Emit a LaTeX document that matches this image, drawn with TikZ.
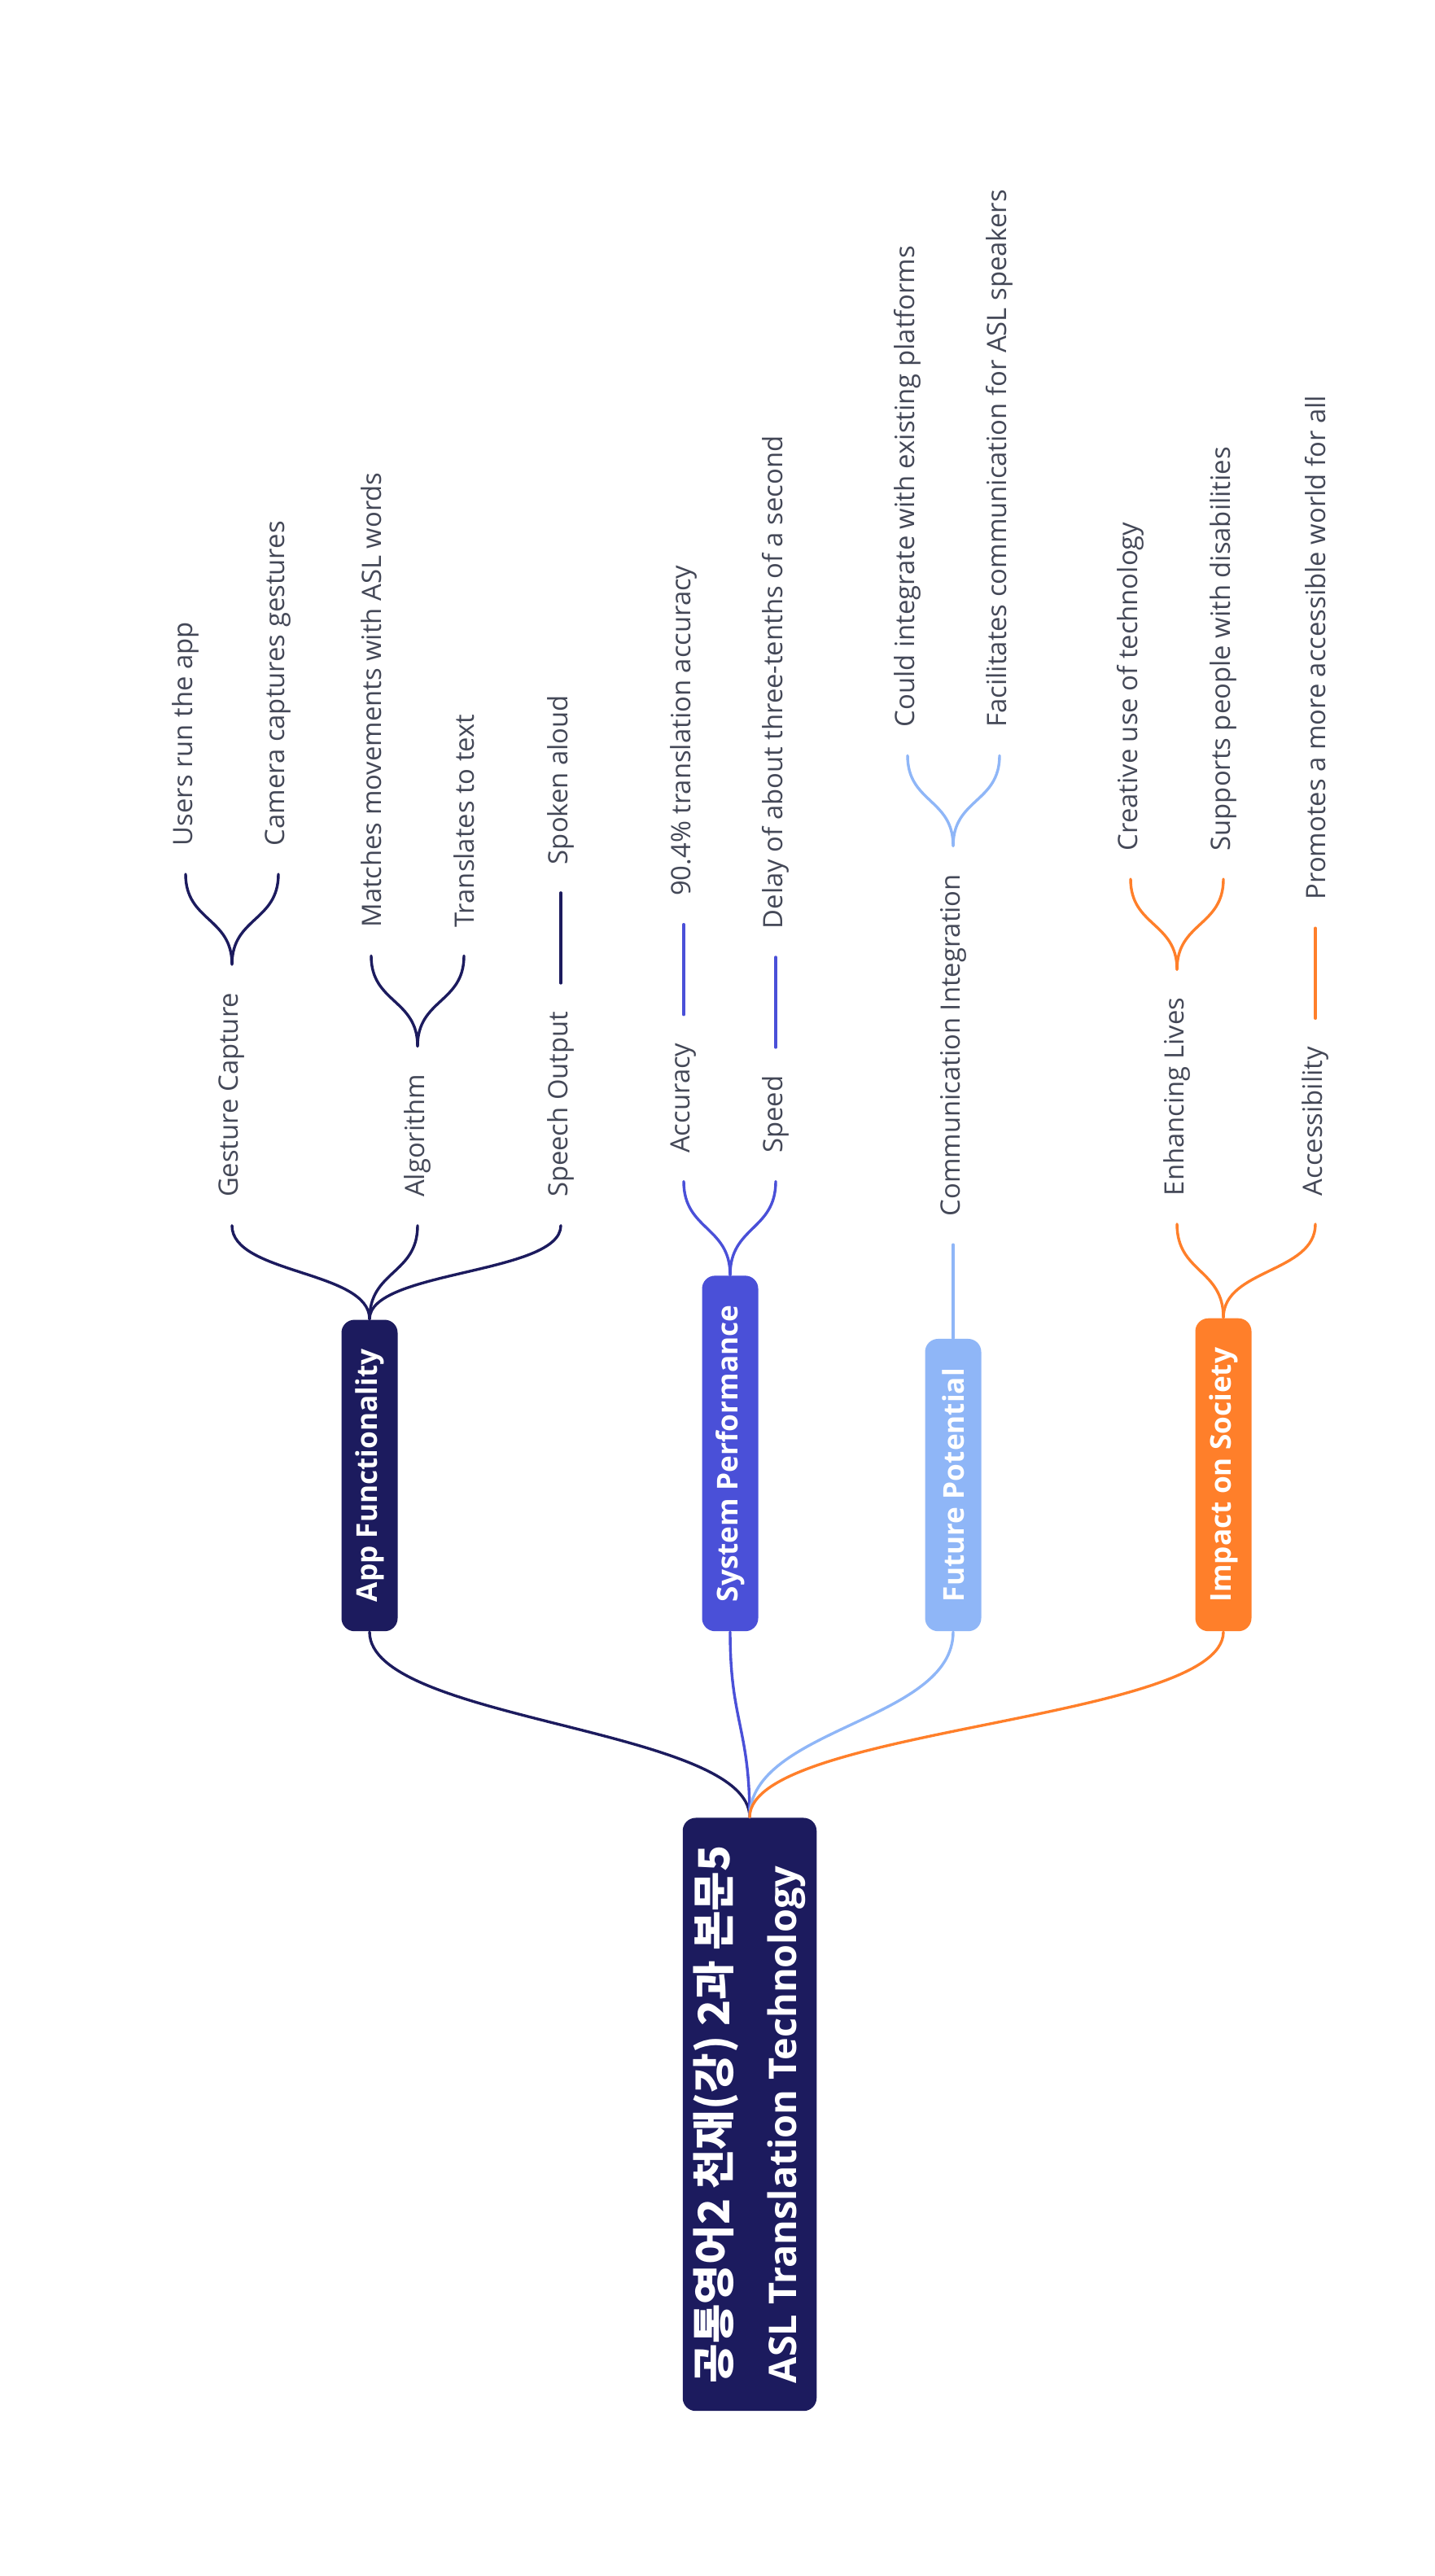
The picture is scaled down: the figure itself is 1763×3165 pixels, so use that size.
\documentclass[tikz,border=0pt]{standalone}
\usepackage{fontspec}
\setmainfont{Open Sans}
\newfontfamily\kofont{Noto Sans CJK KR}
\usetikzlibrary{positioning}
\definecolor{navy}{HTML}{1C1B5E}
\definecolor{perfblue}{HTML}{4A50D8}
\definecolor{skyblue}{HTML}{8FB6F7}
\definecolor{socorange}{HTML}{FF7F2A}
\definecolor{leafgray}{HTML}{444857}

\begin{document}
\begin{tikzpicture}[
  x=0.25pt, y=-0.25pt,
  rootbox/.style={rotate=90, anchor=west, fill=navy, text=white, rounded corners=4pt, align=left,
    font=\bfseries\fontsize{11.7}{20.5}\selectfont, inner xsep=8.5pt, minimum height=40.5pt},
  topic/.style={rotate=90, anchor=west, text=white, rounded corners=4pt,
    font=\bfseries\fontsize{8.8}{10}\selectfont, inner xsep=9pt, minimum height=17.25pt},
  sub/.style={rotate=90, anchor=west, text=leafgray, font=\fontsize{8.2}{10}\selectfont, inner xsep=8.5pt, inner ysep=2pt},
  link/.style={line width=0.85pt, line cap=round}
]
\useasboundingbox (0,0) rectangle (1763,3165);

\node[rootbox] (root) at (921,2963) {{\kofont\fontsize{13.2}{20.5}\selectfont 공통영어2 천재(강) 2과 본문5}\\ASL Translation Technology};

\node[topic, fill=navy] (app) at (454,2005) {App Functionality};
\node[topic, fill=perfblue] (perf) at (897,2005) {System Performance};
\node[topic, fill=skyblue] (future) at (1171,2005) {Future Potential};
\node[topic, fill=socorange] (impact) at (1503,2005) {Impact on Society};

\node[sub] (gesture) at ([shift={(-169,-115)}]app.east) {Gesture Capture};
\node[sub] (algo) at ([shift={(59,-115)}]app.east) {Algorithm};
\node[sub] (speech) at ([shift={(235,-115)}]app.east) {Speech Output};
\node[sub] (users) at ([shift={(-57,-111)}]gesture.east) {Users run the app};
\node[sub] (camera) at ([shift={(57,-111)}]gesture.east) {Camera captures gestures};
\node[sub] (matches) at ([shift={(-57,-111)}]algo.east) {Matches movements with ASL words};
\node[sub] (totext) at ([shift={(57,-111)}]algo.east) {Translates to text};
\node[sub] (spoken) at ([shift={(0,-111)}]speech.east) {Spoken aloud};

\node[sub] (accuracy) at ([shift={(-57,-115)}]perf.east) {Accuracy};
\node[sub] (speed) at ([shift={(56,-115)}]perf.east) {Speed};
\node[sub] (percent) at ([shift={(0,-111)}]accuracy.east) {90.4\% translation accuracy};
\node[sub] (delay) at ([shift={(0,-111)}]speed.east) {Delay of about three-tenths of a second};

\node[sub] (comm) at ([shift={(0,-115)}]future.east) {Communication Integration};
\node[sub] (integrate) at ([shift={(-56,-111)}]comm.east) {Could integrate with existing platforms};
\node[sub] (facilitate) at ([shift={(57,-111)}]comm.east) {Facilitates communication for ASL speakers};

\node[sub] (lives) at ([shift={(-57,-115)}]impact.east) {Enhancing Lives};
\node[sub] (access) at ([shift={(113,-115)}]impact.east) {Accessibility};
\node[sub] (creative) at ([shift={(-57,-111)}]lives.east) {Creative use of technology};
\node[sub] (supports) at ([shift={(57,-111)}]lives.east) {Supports people with disabilities};
\node[sub] (promotes) at ([shift={(0,-111)}]access.east) {Promotes a more accessible world for all};

\draw[link, navy] (root.east) .. controls +(0,-110) and +(0,110) .. (app.west);
\draw[link, perfblue] (root.east) .. controls +(0,-110) and +(0,110) .. (perf.west);
\draw[link, skyblue] (root.east) .. controls +(0,-110) and +(0,110) .. (future.west);
\draw[link, socorange] (root.east) .. controls +(0,-110) and +(0,110) .. (impact.west);

\draw[link, navy] (app.east) .. controls +(0,-60) and +(0,60) .. (gesture.west);
\draw[link, navy] (app.east) .. controls +(0,-60) and +(0,60) .. (algo.west);
\draw[link, navy] (app.east) .. controls +(0,-60) and +(0,60) .. (speech.west);
\draw[link, navy] (gesture.east) .. controls +(0,-58) and +(0,58) .. (users.west);
\draw[link, navy] (gesture.east) .. controls +(0,-58) and +(0,58) .. (camera.west);
\draw[link, navy] (algo.east) .. controls +(0,-58) and +(0,58) .. (matches.west);
\draw[link, navy] (algo.east) .. controls +(0,-58) and +(0,58) .. (totext.west);
\draw[link, navy] (speech.east) -- (spoken.west);

\draw[link, perfblue] (perf.east) .. controls +(0,-60) and +(0,60) .. (accuracy.west);
\draw[link, perfblue] (perf.east) .. controls +(0,-60) and +(0,60) .. (speed.west);
\draw[link, perfblue] (accuracy.east) -- (percent.west);
\draw[link, perfblue] (speed.east) -- (delay.west);

\draw[link, skyblue] (future.east) -- (comm.west);
\draw[link, skyblue] (comm.east) .. controls +(0,-58) and +(0,58) .. (integrate.west);
\draw[link, skyblue] (comm.east) .. controls +(0,-58) and +(0,58) .. (facilitate.west);

\draw[link, socorange] (impact.east) .. controls +(0,-60) and +(0,60) .. (lives.west);
\draw[link, socorange] (impact.east) .. controls +(0,-60) and +(0,60) .. (access.west);
\draw[link, socorange] (lives.east) .. controls +(0,-58) and +(0,58) .. (creative.west);
\draw[link, socorange] (lives.east) .. controls +(0,-58) and +(0,58) .. (supports.west);
\draw[link, socorange] (access.east) -- (promotes.west);
\end{tikzpicture}
\end{document}
